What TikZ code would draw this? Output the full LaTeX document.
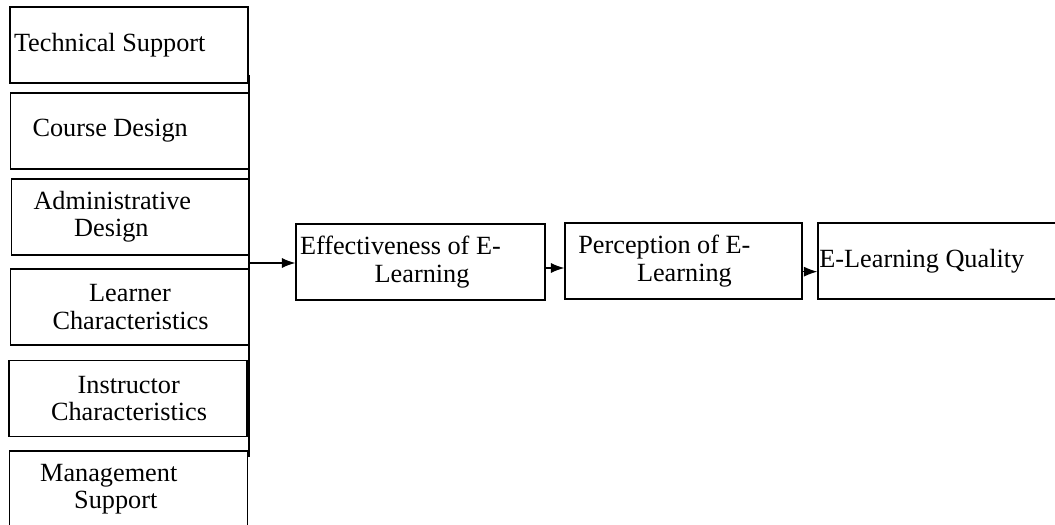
\documentclass[tikz,border=0pt]{standalone}
\usepackage{fontspec}
\setmainfont{Liberation Serif}
\usetikzlibrary{arrows.meta}

\newcommand{\boxfont}{\fontsize{19.7pt}{20.5pt}\selectfont}

\tikzset{every picture/.style={line width=0.75pt}}
\tikzset{
  factor/.style={draw, line width=1.1pt, minimum width=178.5pt, minimum height=57pt,
    text width=172.5pt, inner xsep=3pt, align=flush left, font=\boxfont},
  outcome/.style={factor, minimum width=#1, text width=#1-6pt},
  link/.style={line width=0.8pt, -{Latex[length=10pt,width=7.5pt]}}
}

\begin{document}
\begin{tikzpicture}[x=0.75pt,y=0.75pt,yscale=-1,xscale=1]
	\useasboundingbox (0,0) rectangle (1055,524);

	%Shape: Rectangle [factors]
	\node[factor] (tech) at (129,45) {Technical Support};
	\node[factor] (course) at (129.5,131) {\hspace*{13.5pt}Course Design};
	\node[factor] (admin) at (130.5,217) {\hspace*{13.5pt}Administrative\\\hspace*{44pt}Design};
	\node[factor] (learner) at (129.5,307) {\hspace*{56pt}Learner\\\hspace*{28.5pt}Characteristics};
	\node[factor] (instr) at (128,398.5) {\hspace*{48.5pt}Instructor\\\hspace*{28.5pt}Characteristics};
	\node[factor] (mgmt) at (128.5,489) {\hspace*{20pt}Management\\\hspace*{45.5pt}Support};

	%Shape: Rectangle [chain]
	\node[outcome=186.75pt] (effect) at (420.5,262) {Effectiveness of E-\\\hspace*{56pt}Learning};
	\node[outcome=177.75pt] (percep) at (683.5,261) {\hspace*{7pt}Perception of E-\\\hspace*{51pt}Learning};
	\node[outcome=178.5pt, inner xsep=1pt, text width=176.5pt] (quality) at (937,261) {E-Learning Quality};

	%Straight Lines [bus]
	\coordinate (bustop) at (249,75);
	\coordinate (busbot) at (249,457);
	\coordinate (busmid) at (249,263);
	\draw[line width=1.2pt] (bustop) -- (busbot);
	\draw[link] (busmid) -- (busmid -| effect.west);

	%Straight Lines [arrows]
	\draw[link] ([yshift=4.5pt]effect.east) -- ([yshift=4.5pt]effect.east -| percep.west);
	\draw[link] ([yshift=8pt]percep.east) -- ([yshift=8pt]percep.east -| quality.west);

\end{tikzpicture}
\end{document}
